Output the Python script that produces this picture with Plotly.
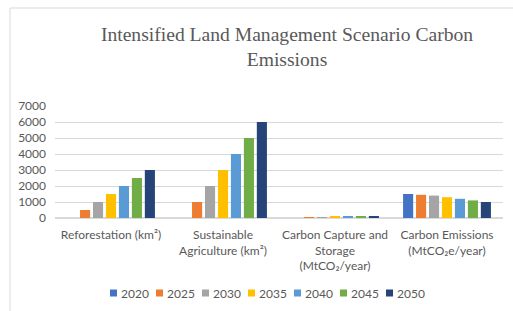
import plotly.graph_objects as go

categories = [
    "Reforestation (km²)",
    "Sustainable<br>Agriculture (km²)",
    "Carbon Capture and<br>Storage<br>(MtCO₂/year)",
    "Carbon Emissions<br>(MtCO₂e/year)",
]
years = ["2020", "2025", "2030", "2035", "2040", "2045", "2050"]
colors = ["#4472C4", "#ED7D31", "#A5A5A5", "#FFC000", "#5B9BD5", "#70AD47", "#264478"]

# values per year across the four categories
v2020 = [0, 0, 0, 1500]
v2025 = [500, 1000, 50, 1450]
v2030 = [1000, 2000, 60, 1400]
v2035 = [1500, 3000, 70, 1300]
v2040 = [2000, 4000, 80, 1200]
v2045 = [2500, 5000, 100, 1100]
v2050 = [3000, 6000, 120, 1000]
series = [v2020, v2025, v2030, v2035, v2040, v2045, v2050]

y_ticks = [0, 1000, 2000, 3000, 4000, 5000, 6000, 7000]

W, H = 513, 311
ML, MR, MT, MB = 55, 10, 106, 93
PW, PH = W - ML - MR, H - MT - MB

fig = go.Figure()
for yr, col, vals in zip(years, colors, series):
    fig.add_trace(go.Bar(name=yr, x=categories, y=vals, marker_color=col,
                         marker_line_width=0, showlegend=False))

gray = "#595959"
sans = "Lato, 'Open Sans', sans-serif"

# legend built from annotations and shapes
leg_x0 = 110
leg_pitch = 46
leg_y = 293
annotations = []
shapes = []
for i, (yr, col) in enumerate(zip(years, colors)):
    px = leg_x0 + i * leg_pitch
    shapes.append(dict(type="rect", xref="paper", yref="paper",
                       x0=(px - ML) / PW, x1=(px + 7 - ML) / PW,
                       y0=(H - MB - (leg_y + 3.5)) / PH, y1=(H - MB - (leg_y - 3.5)) / PH,
                       fillcolor=col, line_width=0))
    annotations.append(dict(text=yr, xref="paper", yref="paper",
                            x=(px + 9 - ML) / PW, y=(H - MB - leg_y) / PH,
                            xanchor="left", yanchor="middle", showarrow=False,
                            font=dict(family=sans, size=12, color=gray)))

# chart border
shapes.append(dict(type="rect", xref="paper", yref="paper",
                   x0=(10 - ML) / PW, x1=(530 - ML) / PW,
                   y0=(H - MB - 320) / PH, y1=(H - MB - 8) / PH,
                   line=dict(color="#D9D9D9", width=1), fillcolor="rgba(0,0,0,0)"))

fig.update_layout(
    width=W, height=H,
    margin=dict(l=ML, r=MR, t=MT, b=MB, autoexpand=False),
    paper_bgcolor="white", plot_bgcolor="white",
    barmode="group", bargap=0.19, bargroupgap=0.22,
    title=dict(text="Intensified Land Management Scenario Carbon<br>Emissions",
               x=287 / W, xanchor="center", xref="container",
               y=1 - 41 / H, yanchor="top", yref="container",
               font=dict(family="'Liberation Serif', 'Times New Roman', serif", size=19.6, color=gray)),
    xaxis=dict(showgrid=False, showline=False, ticks="", ticklabelstandoff=8, automargin=False,
               tickfont=dict(family=sans, size=12, color=gray)),
    yaxis=dict(range=[0, 7000], tickvals=y_ticks, showgrid=True, gridcolor="#D9D9D9",
               gridwidth=1, zeroline=True, zerolinecolor="#D9D9D9", showline=False,
               ticks="", ticklabelstandoff=8, automargin=False,
               tickfont=dict(family=sans, size=12, color=gray)),
    annotations=annotations,
    shapes=shapes,
    showlegend=False,
)

fig.write_html("out.html", config={"displayModeBar": False},
               post_script="document.body.style.margin='0';document.body.style.overflow='hidden';")
